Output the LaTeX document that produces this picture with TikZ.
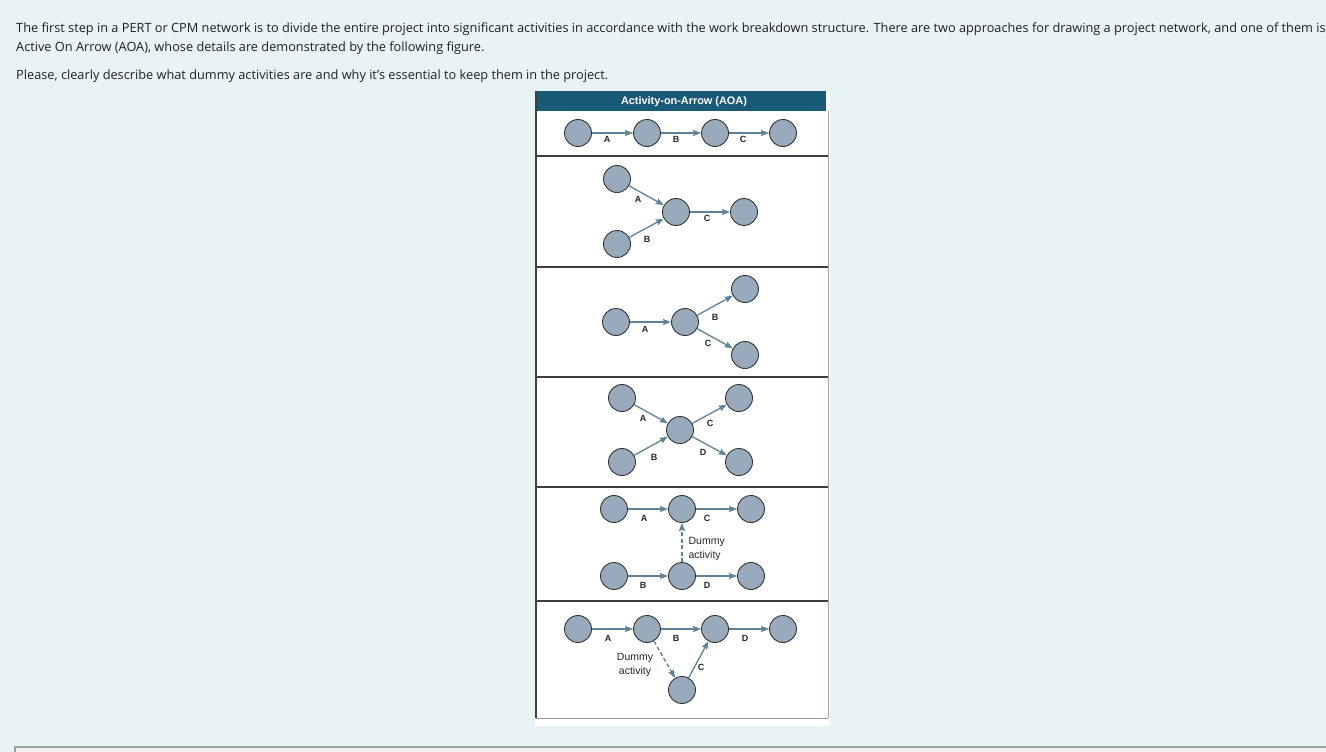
\documentclass[tikz,border=0pt]{standalone}
\usepackage{fontspec}
\setmainfont{Open Sans}
\newfontfamily\arialf{Liberation Sans}
\usetikzlibrary{arrows.meta}
\definecolor{pagebg}{HTML}{E8F3F6}
\definecolor{hdrcol}{HTML}{1B5A76}
\definecolor{cfill}{HTML}{98AABB}
\definecolor{cstroke}{HTML}{353535}
\definecolor{acol}{HTML}{5E8197}
\definecolor{sepcol}{HTML}{3E3E3E}
\definecolor{boxfill}{HTML}{F1F1F1}
\definecolor{txtcol}{HTML}{202020}
\newlength\Lwid
\newcommand\mainsz{\fontsize{\tsz pt}{20pt}\selectfont}
\AtBeginDocument{%
  \settowidth\Lwid{\normalfont\fontsize{10}{12}\selectfont Please, clearly describe what dummy activities are and why it's essential to keep them in the project.}%
  \pgfmathsetmacro\tmpsz{10*592/\Lwid}%
  \xdef\tsz{\tmpsz}}
\begin{document}
\begin{tikzpicture}[x=1pt,y=-1pt,
  circ/.style={circle, draw=cstroke, fill=cfill, line width=0.9pt, minimum size=27pt, inner sep=0pt},
  arr/.style={draw=acol, line width=1.3pt, -{Stealth[length=8pt,width=6pt,inset=1pt]}},
  dum/.style={arr, dash pattern=on 4pt off 2.5pt},
  lab/.style={font=\arialf\bfseries\fontsize{9}{11}\selectfont, inner sep=0pt, text=black!85},
  dumtxt/.style={font=\arialf\fontsize{10.5}{14}\selectfont, inner sep=0pt, text=black!85},
  maintxt/.style={font=\mainsz, text=txtcol, inner sep=0pt, anchor=base west},
  sep/.style={draw=sepcol, line width=1.3pt}]
\clip (0,0) rectangle (1326,752);
\fill[pagebg] (0,0) rectangle (1326,752);
% text
\node[maintxt] (t1) at (16,33) {The first step in a PERT or CPM network is to divide the entire project into significant activities in accordance with the work breakdown structure. There are two approaches for drawing a project network, and one of them is};
\node[maintxt] (t2) at (16,52) {Active On Arrow (AOA), whose details are demonstrated by the following figure.};
\node[maintxt] (t3) at (16,80) {Please, clearly describe what dummy activities are and why it's essential to keep them in the project.};
% bottom box
\draw[draw=gray!75, line width=1.2pt, fill=boxfill] (15,747) rectangle (1340,780);
% figure frame
\fill[white] (535,91) rectangle (830,726);
\fill[hdrcol] (535,91) rectangle (826,111);
\node[font=\arialf\bfseries\fontsize{10.9}{12}\selectfont, text=white, inner sep=0pt] (hdr) at (684,101.5) {Activity-on-Arrow (AOA)};
\draw[sepcol, line width=1.3pt] (536,91) -- (536,718);
\draw[gray!70, line width=1pt] (828,111) -- (828,718);
\draw[gray!80, line width=1pt] (536,718) -- (828,718);
\foreach \yy in {156,267,377,487,601} \draw[sep] (536,\yy) -- (828,\yy);
% row 1
\node[circ] (a1) at (578,133) {};
\node[circ] (a2) at (647,133) {};
\node[circ] (a3) at (715,133) {};
\node[circ] (a4) at (783,133) {};
\draw[arr] (a1) -- (a2) node[lab] at (607,139) {A};
\draw[arr] (a2) -- (a3) node[lab] at (676,139) {B};
\draw[arr] (a3) -- (a4) node[lab] at (743,139) {C};
% row 2
\node[circ] (b1) at (617,179) {};
\node[circ] (b2) at (617,244) {};
\node[circ] (b3) at (676,212) {};
\node[circ] (b4) at (744,212) {};
\draw[arr] (b1) -- (b3) node[lab] at (638,199) {A};
\draw[arr] (b2) -- (b3) node[lab] at (647,239) {B};
\draw[arr] (b3) -- (b4) node[lab] at (707,218) {C};
% row 3
\node[circ] (c1) at (616,322) {};
\node[circ] (c2) at (685,322) {};
\node[circ] (c3) at (745,289) {};
\node[circ] (c4) at (745,355) {};
\draw[arr] (c1) -- (c2) node[lab] at (645,329) {A};
\draw[arr] (c2) -- (c3) node[lab] at (715,317) {B};
\draw[arr] (c2) -- (c4) node[lab] at (708,343) {C};
% row 4
\node[circ] (d1) at (622,398) {};
\node[circ] (d2) at (622,462) {};
\node[circ] (d3) at (680,430) {};
\node[circ] (d4) at (739,398) {};
\node[circ] (d5) at (739,462) {};
\draw[arr] (d1) -- (d3) node[lab] at (643,418) {A};
\draw[arr] (d2) -- (d3) node[lab] at (654,457) {B};
\draw[arr] (d3) -- (d4) node[lab] at (710,423) {C};
\draw[arr] (d3) -- (d5) node[lab] at (703,452) {D};
% row 5
\node[circ] (e1) at (614,509) {};
\node[circ] (e2) at (682,509) {};
\node[circ] (e3) at (751,509) {};
\node[circ] (e4) at (614,576) {};
\node[circ] (e5) at (682,576) {};
\node[circ] (e6) at (751,576) {};
\draw[arr] (e1) -- (e2) node[lab] at (644,518) {A};
\draw[arr] (e2) -- (e3) node[lab] at (707,518) {C};
\draw[arr] (e4) -- (e5) node[lab] at (643,585) {B};
\draw[arr] (e5) -- (e6) node[lab] at (707,585) {D};
\draw[dum] (e5) -- (e2) node[dumtxt, anchor=west, align=left] at (688,549) {Dummy\\activity};
% row 6
\node[circ] (f1) at (578,629) {};
\node[circ] (f2) at (647,629) {};
\node[circ] (f3) at (715,629) {};
\node[circ] (f4) at (783,629) {};
\node[circ] (f5) at (682,690) {};
\draw[arr] (f1) -- (f2) node[lab] at (608,638) {A};
\draw[arr] (f2) -- (f3) node[lab] at (676,638) {B};
\draw[arr] (f3) -- (f4) node[lab] at (745,638) {D};
\draw[arr] (f5) -- (f3) node[lab] at (701,667) {C};
\draw[dum] (f2) -- (f5) node[dumtxt, align=center] at (635,664.5) {Dummy\\activity};
\end{tikzpicture}
\end{document}
